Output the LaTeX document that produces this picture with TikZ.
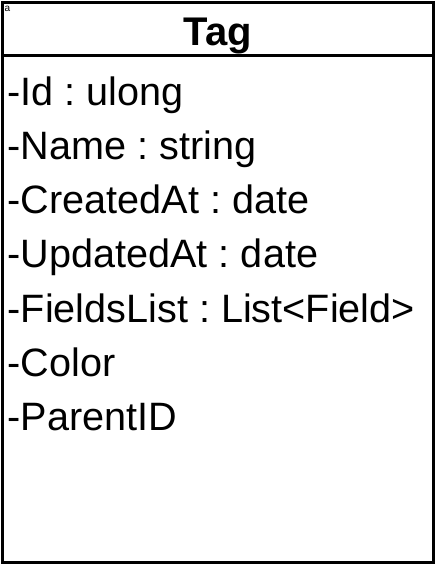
\documentclass[tikz,border=0pt]{standalone}
\usepackage{fontspec}
\setmainfont{Liberation Sans}
\frenchspacing
\begin{document}
\begin{tikzpicture}[x=1pt,y=-1pt,
  frame/.style={draw=black,line width=3pt},
  attr/.style={anchor=base west,inner sep=0pt,font=\fontsize{39.6}{42}\selectfont},
  title/.style={anchor=base,inner sep=0pt,font=\fontsize{40}{42}\selectfont\bfseries}]
\useasboundingbox (0,0) rectangle (436,565);
\fill[white] (0,0) rectangle (436,565);
\draw[frame] (2.5,2.5) rectangle (433.5,562.5);
\draw[frame] (2.5,55) -- (433.5,55);
\node[anchor=base west,inner sep=0pt,font=\fontsize{10}{11}\selectfont] (mark) at (4.5,11.5) {a};
\node[title] (tag) at (218,45) {Tag};
\node[attr] (r1) at (7.5,105) {-Id : ulong};
\node[attr] (r2) at (7.5,159.3) {-Name : string};
\node[attr] (r3) at (7.5,213.6) {-CreatedAt : date};
\node[attr] (r4) at (7.5,267.9) {-UpdatedAt : date};
\node[attr] (r5) at (7.5,322.2) {-FieldsList : List<Field>};
\node[attr] (r6) at (7.5,376.5) {-Color};
\node[attr] (r7) at (7.5,430.8) {-ParentID};
\end{tikzpicture}
\end{document}
